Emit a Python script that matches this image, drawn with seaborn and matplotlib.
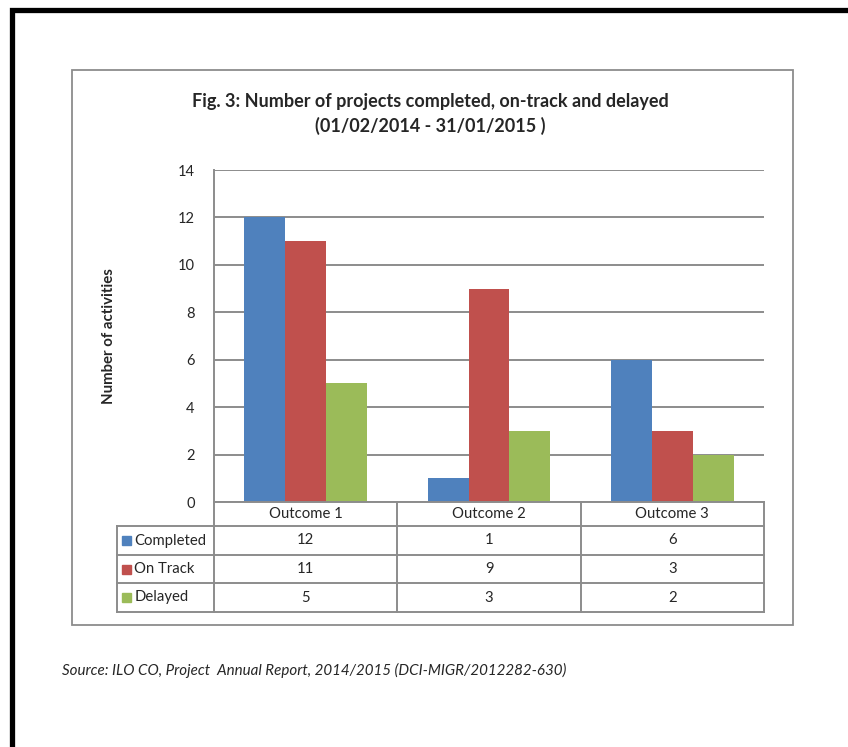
import matplotlib
matplotlib.use("Agg")
import matplotlib.pyplot as plt
from matplotlib.lines import Line2D
from matplotlib.patches import Rectangle
import seaborn as sns
import pandas as pd

outcomes = ["Outcome 1", "Outcome 2", "Outcome 3"]
statuses = ["Completed", "On Track", "Delayed"]
completed = [12, 1, 6]
on_track = [11, 9, 3]
delayed = [5, 3, 2]
yticks = [0, 2, 4, 6, 8, 10, 12, 14]
colors = ["#4F81BD", "#C0504D", "#9BBB59"]

title = "Fig. 3: Number of projects completed, on-track and delayed\n(01/02/2014 - 31/01/2015 )"
ylabel = "Number of activities"
source = "Source: ILO CO, Project  Annual Report, 2014/2015 (DCI-MIGR/2012282-630)"

series = [completed, on_track, delayed]
df = pd.DataFrame(
    [(o, s, v) for s, vals in zip(statuses, series) for o, v in zip(outcomes, vals)],
    columns=["outcome", "status", "count"],
)

sns.set_theme(style="white")
plt.rcParams["font.family"] = ["Lato", "DejaVu Sans"]

W, H = 848, 747
fig = plt.figure(figsize=(W / 100, H / 100), dpi=100)


def fx(px):
    return px / W


def fy(py):
    return 1 - py / H


GRID = "#8C8C8C"

# page border (only top and left edges fall inside the canvas)
fig.add_artist(Line2D([fx(11.5), fx(11.5), fx(860)], [fy(760), fy(9.5), fy(9.5)],
                      transform=fig.transFigure, color="black", lw=3.8,
                      solid_joinstyle="miter"))
# chart frame
fig.add_artist(Rectangle((fx(72), fy(625)), (793 - 72) / W, (625 - 70) / H,
                         transform=fig.transFigure, fill=False, ec=GRID, lw=1.3))

# bar chart
ax = fig.add_axes([fx(214), fy(502), (764 - 214) / W, (502 - 170) / H])
sns.barplot(data=df, x="outcome", y="count", hue="status", hue_order=statuses,
            order=outcomes, palette=colors, width=0.67, saturation=1,
            ax=ax, legend=False, linewidth=0)
ax.set_xlim(-0.5, 2.5)
ax.set_ylim(0, 14)
ax.set_yticks(yticks)
ax.set_yticklabels([str(t) for t in yticks], fontsize=10.5)
ax.tick_params(axis="y", length=0, pad=14)
ax.set_xticks([])
ax.set_xlabel("")
ax.set_ylabel(ylabel, fontsize=10.8, fontweight="bold")
ax.yaxis.set_label_coords((116 - 214) / 550, 0.5)
ax.set_axisbelow(True)
ax.grid(axis="y", color=GRID, lw=1.4)
for side in ["top", "right", "bottom"]:
    ax.spines[side].set_visible(False)
ax.spines["left"].set_color(GRID)
ax.spines["left"].set_linewidth(1.4)

# data table under the bars
tax = fig.add_axes([fx(117), fy(612), (764 - 117) / W, 110 / H])
tax.set_xlim(-1.03, 2.5)
tax.set_ylim(110, 0)
tax.axis("off")
rows = [0, 24, 53, 81, 110]
lk = dict(color=GRID, lw=1.4, clip_on=False, solid_capstyle="projecting")
tax.plot([-0.5, 2.5], [0, 0], **lk)
for r in rows[1:]:
    tax.plot([-1.03, 2.5], [r, r], **lk)
tax.plot([-1.03, -1.03], [rows[1], rows[-1]], **lk)
for c in [-0.5, 0.5, 1.5, 2.5]:
    tax.plot([c, c], [0, rows[-1]], **lk)

for i, o in enumerate(outcomes):
    tax.text(i, (rows[0] + rows[1]) / 2, o, ha="center", va="center", fontsize=10.7)
for j, (s, vals, col) in enumerate(zip(statuses, series, colors)):
    yc = (rows[j + 1] + rows[j + 2]) / 2
    tax.add_patch(Rectangle((-1.003, yc - 4.5), 0.048, 9, color=col, clip_on=False))
    tax.text(-0.935, yc, s, ha="left", va="center", fontsize=10.7)
    for i, v in enumerate(vals):
        tax.text(i, yc, str(v), ha="center", va="center", fontsize=10.7)

fig.text(fx(430), fy(114), title, ha="center", va="center", fontsize=13,
         fontweight="bold", linespacing=1.45)
fig.text(fx(62), fy(670), source, ha="left", va="center", fontsize=10.9,
         style="italic")

fig.savefig("out.png", dpi=100, facecolor="white")
